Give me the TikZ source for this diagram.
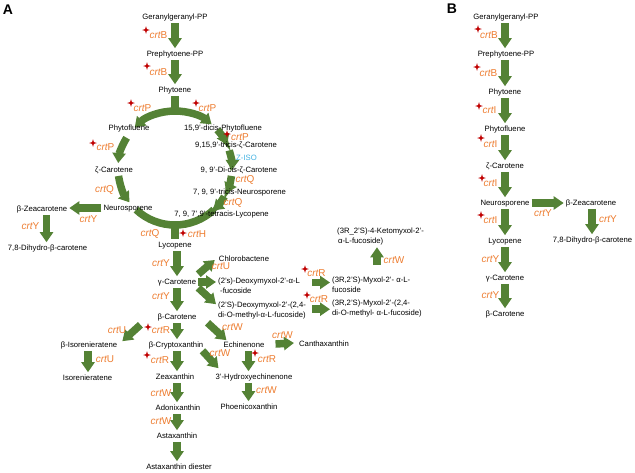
\documentclass[tikz,border=0pt]{standalone}
\usepackage{fontspec}
\setmainfont{Liberation Sans}
\usetikzlibrary{arrows.meta,calc,backgrounds}
\definecolor{agreen}{RGB}{84,130,53}
\definecolor{aorange}{RGB}{237,125,49}
\definecolor{ared}{RGB}{192,0,0}
\definecolor{ablue}{RGB}{65,177,225}
\tikzset{
 lbl/.style={font=\fontsize{7.7}{9}\selectfont, inner sep=2pt, text height=5.6pt, text depth=1.6pt},
 two/.style={font=\fontsize{7.7}{9.5}\selectfont, inner sep=2pt, align=left, anchor=north west},
 enz/.style={font=\fontsize{10}{12}\selectfont, text=aorange, inner sep=0pt},
 panel/.style={font=\fontsize{14}{14}\selectfont\bfseries, inner sep=0pt},
 barrow/.style={draw=agreen, line width=7.5pt, -{Triangle[width=13pt,length=10pt]}},
 band/.style={draw=agreen, line width=7.5pt},
 rstar/.pic={\fill[ared] (0,-3.8) -- (0.9,-0.9) -- (3.8,0) -- (0.9,0.9) -- (0,3.8) -- (-0.9,0.9) -- (-3.8,0) -- (-0.9,-0.9) -- cycle;},
}
\newcommand{\crt}[1]{{\itshape crt}#1}
\begin{document}
\begin{tikzpicture}[x=1pt,y=-1pt]
\useasboundingbox (0,0) rectangle (635,472);
\node[panel] (labA) at (8,10) {A};
\node[panel] (labB) at (452,9) {B};

% ---------- Panel A nodes ----------
\node[lbl] (gg) at (175,17) {Geranylgeranyl-PP};
\node[lbl] (pp) at (175,54) {Prephytoene-PP};
\node[lbl] (phy) at (175,90) {Phytoene};
\coordinate (cc) at (175,168);
\coordinate (ctop) at (175,111);
\coordinate (cbot) at (175,225);
\node[lbl] (phfl) at (129,128) {Phytofluene};
\node[lbl] (zcar) at (114,170) {ζ-Carotene};
\node[lbl] (neu) at (128,208) {Neurosporene};
\node[lbl] (dicis) at (223,128) {15,9’-dicis-Phytofluene};
\node[lbl] (tricz) at (236,145) {9,15,9’-tricis-ζ-Carotene};
\node[lbl] (diciz) at (239,170) {9, 9’-Di-cis-ζ-Carotene};
\node[lbl] (tricn) at (239.5,192) {7, 9, 9’-tricis-Neurosporene};
\node[lbl] (tetra) at (221.5,214) {7, 9, 7’,9’-tetracis-Lycopene};
\node[lbl] (bzea) at (42,209) {β-Zeacarotene};
\node[lbl] (dihyd) at (47.5,248) {7,8-Dihydro-β-carotene};
\node[lbl] (lyc) at (175,245) {Lycopene};
\node[lbl] (gcar) at (177,282) {γ-Carotene};
\node[lbl] (bcar) at (177,317) {β-Carotene};
\node[lbl] (chloro) at (244,259) {Chlorobactene};
\node[two] (deoxy1) at (216,276.2) {(2’s)-Deoxymyxol-2’-α-L\\\hspace{2pt}-fucoside};
\node[two] (deoxy2) at (216,300.2) {(2’S)-Deoxymyxol-2’-(2,4-\\di-O-methyl-α-L-fucoside)};
\node[two] (myx1) at (330,275.2) {(3R,2’S)-Myxol-2’- α-L-\\fucoside};
\node[two] (myx2) at (330,298.2) {(3R,2’S)-Myxol-2’-(2,4-\\di-O-methyl- α-L-fucoside)};
\node[two] (keto) at (335,226.2) {(3R\_2’S)-4-Ketomyxol-2’-\\\hspace{1pt}α-L-fucoside)};
\node[lbl] (bisor) at (89,345) {β-Isorenieratene};
\node[lbl] (isor) at (87.5,378) {Isorenieratene};
\node[lbl] (bcry) at (176,345) {β-Cryptoxanthin};
\node[lbl] (echin) at (244,345) {Echinenone};
\node[lbl] (canth) at (324,344) {Canthaxanthin};
\node[lbl] (zea) at (175,377) {Zeaxanthin};
\node[lbl] (hyd) at (254,377) {3’-Hydroxyechinenone};
\node[lbl] (phoen) at (249,407) {Phoenicoxanthin};
\node[lbl] (adon) at (178,408) {Adonixanthin};
\node[lbl] (asta) at (177,436) {Astaxanthin};
\node[lbl] (diester) at (179,467) {Astaxanthin diester};
\coordinate (colx) at (177,0);
\coordinate (kx) at (377,0);
\coordinate (dx) at (46.5,0);
\coordinate (ix) at (88,0);
\coordinate (hx) at (248.5,0);

% ---------- Panel B nodes ----------
\node[lbl] (ggB) at (506,17) {Geranylgeranyl-PP};
\node[lbl] (ppB) at (506,54) {Prephytoene-PP};
\node[lbl] (phyB) at (505,92) {Phytoene};
\node[lbl] (phflB) at (505,129) {Phytofluene};
\node[lbl] (zcarB) at (505,166) {ζ-Carotene};
\node[lbl] (neuB) at (505,203) {Neurosporene};
\node[lbl] (lycB) at (505,241) {Lycopene};
\node[lbl] (gcarB) at (505,278) {γ-Carotene};
\node[lbl] (bcarB) at (505,314) {β-Carotene};
\node[lbl] (bzeaB) at (591,203) {β-Zeacarotene};
\node[lbl] (dihB) at (592.5,240) {7,8-Dihydro-β-carotene};
\coordinate (bx) at (505,0);
\coordinate (bzx) at (592,0);

\begin{scope}[on background layer]
% top of A
\draw[barrow] (gg.south) -- (pp.north);
\draw[barrow] (pp.south) -- (phy.north);
\draw[band] (phy.south) -- (ctop);
% circle
\draw[barrow] (cc) ++(-90:57) arc[start angle=-90, end angle=-135, radius=57];
\draw[barrow] (cc) ++(-148:57) arc[start angle=-148, end angle=-175, radius=57];
\draw[barrow] (cc) ++(-188:57) arc[start angle=-188, end angle=-217, radius=57];
\draw[band] (cc) ++(133:57) arc[start angle=133, end angle=47, radius=57];
\draw[barrow] (cc) ++(-90:57) arc[start angle=-90, end angle=-50, radius=57];
\draw[barrow] (cc) ++(-42:57) arc[start angle=-42, end angle=-24, radius=57];
\draw[barrow] (cc) ++(-18:57) arc[start angle=-18, end angle=2, radius=57];
\draw[barrow] (cc) ++(8:57) arc[start angle=8, end angle=26, radius=57];
\draw[barrow] (cc) ++(30:57) arc[start angle=30, end angle=48, radius=57];
\draw[band] (cbot) -- (cbot |- lyc.north);
% side branch
\draw[barrow] (neu.west) -- (neu.west -| bzea.east);
\draw[barrow] (bzea.south -| dx) -- (dihyd.north -| dx);
% lower column
\draw[barrow] (lyc.south -| colx) -- (gcar.north -| colx);
\draw[barrow] (gcar.south -| colx) -- (bcar.north -| colx);
\draw[barrow] ($(gcar.north east)+(0,-2)$) -- ($(chloro.west)+(-2,1)$);
\draw[barrow] (gcar.east) -- (gcar.east -| deoxy1.west);
\draw[barrow] (gcar.south east) -- ($(deoxy2.north west)+(0,4)$);
\draw[barrow] ($(myx1.west)+(-18,-2.5)$) -- ($(myx1.west)+(0,-2.5)$);
\draw[barrow] ($(myx2.west)+(-18,0.5)$) -- ($(myx2.west)+(0,0.5)$);
\draw[barrow] ($(myx1.north -| kx)+(0,-10)$) -- (keto.south -| kx);
\draw[barrow] ($(bcar.south west)+(-15,2)$) -- ($(bisor.north east)+(3,2)$);
\draw[barrow] (bisor.south -| ix) -- (isor.north -| ix);
\draw[barrow] (bcar.south -| colx) -- (bcry.north -| colx);
\draw[barrow] ($(bcar.south east)+(9,0)$) -- ($(echin.north west)+(5,1)$);
\draw[barrow] ($(echin.east)+(9,-1)$) -- ($(canth.west)+(-3,-1)$);
\draw[barrow] (bcry.south -| colx) -- (zea.north -| colx);
\draw[barrow] ($(bcry.south east)+(-3,0)$) -- ($(hyd.north west)+(5,-3)$);
\draw[barrow] (echin.south -| hx) -- (hyd.north -| hx);
\draw[barrow] (hyd.south -| hx) -- (phoen.north -| hx);
\draw[barrow] (zea.south -| colx) -- (adon.north -| colx);
\draw[barrow] (adon.south -| colx) -- (asta.north -| colx);
\draw[barrow] (asta.south -| colx) -- (diester.north -| colx);
% panel B
\draw[barrow] (ggB.south -| bx) -- (ppB.north -| bx);
\draw[barrow] (ppB.south -| bx) -- (phyB.north -| bx);
\draw[barrow] (phyB.south -| bx) -- (phflB.north -| bx);
\draw[barrow] (phflB.south -| bx) -- (zcarB.north -| bx);
\draw[barrow] (zcarB.south -| bx) -- (neuB.north -| bx);
\draw[barrow] (neuB.south -| bx) -- (lycB.north -| bx);
\draw[barrow] (lycB.south -| bx) -- (gcarB.north -| bx);
\draw[barrow] (gcarB.south -| bx) -- (bcarB.north -| bx);
\draw[barrow] (neuB.east) -- (neuB.east -| bzeaB.west);
\draw[barrow] (bzeaB.south -| bzx) -- (dihB.north -| bzx);
\end{scope}

% ---------- enzyme labels A ----------
\node[enz] (e1) at (158.5,35) {\crt{B}};  \pic at (146,30) {rstar};
\node[enz] (e2) at (158.5,72) {\crt{B}};  \pic at (147,66) {rstar};
\node[enz] (e3) at (142.5,108) {\crt{P}}; \pic at (131,103) {rstar};
\node[enz] (e4) at (207.5,108) {\crt{P}}; \pic at (196,103) {rstar};
\node[enz] (e5) at (105.5,147) {\crt{P}}; \pic at (93,143) {rstar};
\node[enz] (e6) at (240,137) {\crt{P}};   \pic at (227,134) {rstar};
\node[lbl, text=ablue] (e7) at (246.5,158) {Z-ISO};
\node[enz] (e8) at (245,180) {\crt{Q}};
\node[enz] (e9) at (233,203) {\crt{Q}};
\node[enz] (e10) at (104.5,190) {\crt{Q}};
\node[enz] (e11) at (150,234) {\crt{Q}};
\node[enz] (e12) at (197,234) {\crt{H}};  \pic at (183,233) {rstar};
\node[enz] (e13) at (88.5,219) {\crt{Y}};
\node[enz] (e14) at (30.5,226) {\crt{Y}};
\node[enz] (e15) at (161,263) {\crt{Y}};
\node[enz] (e16) at (221,266) {\crt{U}};
\node[enz] (e17) at (161,296) {\crt{Y}};
\node[enz] (e18) at (316.5,273) {\crt{R}}; \pic at (305,269) {rstar};
\node[enz] (e19) at (319,299) {\crt{R}};   \pic at (307,295) {rstar};
\node[enz] (e20) at (394,260) {\crt{W}};
\node[enz] (e21) at (117,330) {\crt{U}};
\node[enz] (e22) at (161,330) {\crt{R}};   \pic at (148,327) {rstar};
\node[enz] (e23) at (232.5,327) {\crt{W}};
\node[enz] (e24) at (282.5,335) {\crt{W}};
\node[enz] (e25) at (105,359) {\crt{U}};
\node[enz] (e26) at (160,360) {\crt{R}};   \pic at (147,355) {rstar};
\node[enz] (e27) at (220,353) {\crt{W}};
\node[enz] (e28) at (267,359) {\crt{R}};   \pic at (255,353) {rstar};
\node[enz] (e29) at (266.5,390) {\crt{W}};
\node[enz] (e30) at (161,393) {\crt{W}};
\node[enz] (e31) at (161,421) {\crt{W}};

% ---------- enzyme labels B ----------
\node[enz] (f1) at (489,35) {\crt{B}};    \pic at (478,29) {rstar};
\node[enz] (f2) at (488.5,73) {\crt{B}};  \pic at (477,67) {rstar};
\node[enz] (f3) at (489.5,110) {\crt{I}}; \pic at (479,106) {rstar};
\node[enz] (f4) at (490.5,144) {\crt{I}}; \pic at (481,138) {rstar};
\node[enz] (f5) at (490.5,183) {\crt{I}}; \pic at (482,178) {rstar};
\node[enz] (f6) at (490.5,220) {\crt{I}}; \pic at (481,215) {rstar};
\node[enz] (f7) at (490.5,259) {\crt{Y}};
\node[enz] (f8) at (490.5,295) {\crt{Y}};
\node[enz] (f9) at (543,213) {\crt{Y}};
\node[enz] (f10) at (608,219) {\crt{Y}};
\end{tikzpicture}
\end{document}
